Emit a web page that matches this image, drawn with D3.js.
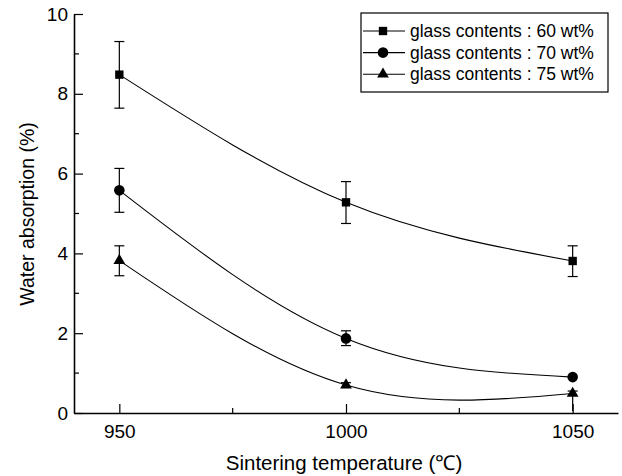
<!DOCTYPE html>
<html>
<head>
<meta charset="utf-8">
<script src="https://cdn.jsdelivr.net/npm/d3@7"></script>
<style>
  body { margin: 0; background: #fff; }
  svg { font-family: "Liberation Sans", Arial, sans-serif; }
</style>
</head>
<body>
<svg id="chart"></svg>
<script>
// water absorption vs sintering temperature, three glass contents
const temps = [950, 1000, 1050];
const seriesNames = ['glass contents : 60 wt%', 'glass contents : 70 wt%', 'glass contents : 75 wt%'];
const symbols = [d3.symbolSquare, d3.symbolCircle, d3.symbolTriangle];

const absorp60 = [8.48, 5.28, 3.81];
const absorp70 = [5.58, 1.87, 0.90];
const absorp75 = [3.82, 0.70, 0.49];

// error bar ends [low, high]
const err60 = [[7.64, 9.31], [4.75, 5.80], [3.42, 4.19]];
const err70 = [[5.03, 6.13], [1.69, 2.06], [0.90, 0.90]];
const err75 = [[3.44, 4.19], [0.64, 0.76], [0.05, 0.55]];

const xTicks = [950, 1000, 1050];
const xMinor = [975, 1025];
const yTicks = [0, 2, 4, 6, 8, 10];
const yMinor = [1, 3, 5, 7, 9];

const width = 622, height = 476;
const svg = d3.select('#chart').attr('width', width).attr('height', height);

const x = d3.scaleLinear().domain([940, 1060]).range([74, 618]);
const y = d3.scaleLinear().domain([0, 10]).range([413, 14]);

const series = [absorp60, absorp70, absorp75].map((vals, i) => ({
  name: seriesNames[i],
  symbol: symbols[i],
  points: vals.map((v, j) => ({ t: temps[j], v: v, err: [err60, err70, err75][i][j] }))
}));

// axes, ticks pointing inward
const xAxis = svg.append('g')
  .attr('transform', `translate(0,${y(0)})`)
  .call(d3.axisBottom(x).tickValues(xTicks).tickFormat(d3.format('d'))
    .tickSizeInner(-9).tickSizeOuter(0).tickPadding(12));
const yAxis = svg.append('g')
  .attr('transform', `translate(${x(940)},0)`)
  .call(d3.axisLeft(y).tickValues(yTicks).tickSizeInner(-9).tickSizeOuter(0).tickPadding(6));

[xAxis, yAxis].forEach(g => {
  g.select('.domain').attr('stroke', '#000').attr('stroke-width', 1.6);
  g.selectAll('.tick line').attr('stroke', '#000').attr('stroke-width', 1.2);
  g.selectAll('.tick text').attr('fill', '#000').style('font-size', '19px');
});

// minor ticks
svg.append('g').selectAll('line').data(xMinor).join('line')
  .attr('x1', d => x(d)).attr('x2', d => x(d))
  .attr('y1', y(0)).attr('y2', y(0) - 5)
  .attr('stroke', '#000').attr('stroke-width', 1.2);
svg.append('g').selectAll('line').data(yMinor).join('line')
  .attr('x1', x(940)).attr('x2', x(940) + 5)
  .attr('y1', d => y(d)).attr('y2', d => y(d))
  .attr('stroke', '#000').attr('stroke-width', 1.2);

// smooth curves
const line = d3.line().x(d => x(d.t)).y(d => y(d.v)).curve(d3.curveNatural);
svg.append('g').selectAll('path').data(series).join('path')
  .attr('d', d => line(d.points))
  .attr('fill', 'none')
  .attr('stroke', '#000')
  .attr('stroke-width', 1.1);

// error bars
const capW = 5;
series.forEach(s => {
  const g = svg.append('g').attr('stroke', '#000').attr('stroke-width', 1.2);
  s.points.filter(p => p.err[1] > p.err[0]).forEach(p => {
    const cx = x(p.t);
    g.append('line').attr('x1', cx).attr('x2', cx).attr('y1', y(p.err[0])).attr('y2', y(p.err[1]));
    g.append('line').attr('x1', cx - capW).attr('x2', cx + capW).attr('y1', y(p.err[1])).attr('y2', y(p.err[1]));
    if (p.err[0] > 0.1)
      g.append('line').attr('x1', cx - capW).attr('x2', cx + capW).attr('y1', y(p.err[0])).attr('y2', y(p.err[0]));
  });
});

// markers
const symSize = [70, 88, 60];
series.forEach((s, i) => {
  svg.append('g').selectAll('path').data(s.points).join('path')
    .attr('transform', d => `translate(${x(d.t)},${y(d.v)})`)
    .attr('d', d3.symbol().type(s.symbol).size(symSize[i]))
    .attr('fill', '#000');
});

// axis titles
svg.append('text')
  .attr('x', 344).attr('y', 470)
  .attr('text-anchor', 'middle')
  .style('font-size', '20.5px')
  .text('Sintering temperature (℃)');
svg.append('text')
  .attr('transform', 'translate(34,214) rotate(-90)')
  .attr('text-anchor', 'middle')
  .style('font-size', '19.5px')
  .text('Water absorption (%)');

// legend
const legend = svg.append('g');
legend.append('rect')
  .attr('x', 361).attr('y', 13).attr('width', 247).attr('height', 79)
  .attr('fill', '#fff').attr('stroke', '#000').attr('stroke-width', 1.2);
series.forEach((s, i) => {
  const ly = 31 + i * 21.6;
  legend.append('line')
    .attr('x1', 363).attr('x2', 405).attr('y1', ly).attr('y2', ly)
    .attr('stroke', '#000').attr('stroke-width', 1.1);
  legend.append('path')
    .attr('transform', `translate(383,${ly})`)
    .attr('d', d3.symbol().type(s.symbol).size(symSize[i]))
    .attr('fill', '#000');
  legend.append('text')
    .attr('x', 410).attr('y', ly + 6)
    .style('font-size', '17.5px')
    .text(s.name);
});
</script>
</body>
</html>
